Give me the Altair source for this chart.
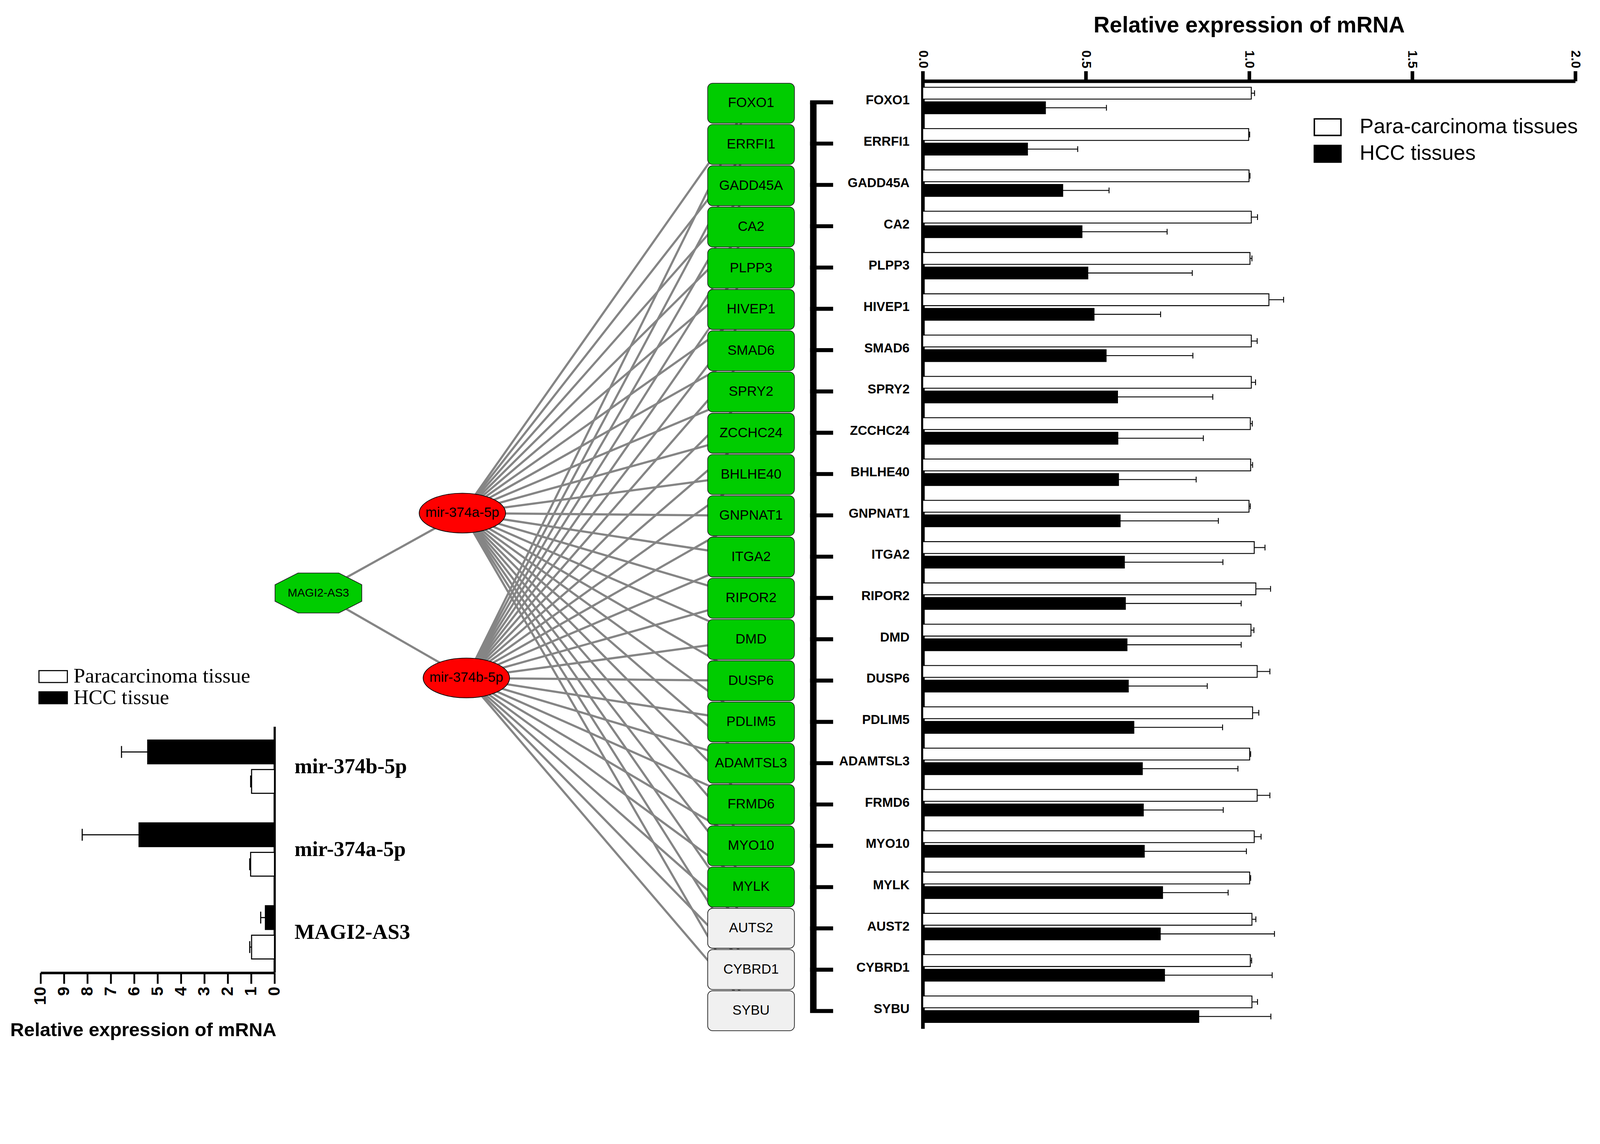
import altair as alt
import pandas as pd

# ---------------- data ----------------
genes = ["FOXO1", "ERRFI1", "GADD45A", "CA2", "PLPP3", "HIVEP1", "SMAD6", "SPRY2",
         "ZCCHC24", "BHLHE40", "GNPNAT1", "ITGA2", "RIPOR2", "DMD", "DUSP6", "PDLIM5",
         "ADAMTSL3", "FRMD6", "MYO10", "MYLK", "AUST2", "CYBRD1", "SYBU"]
para_mean = [1.007, 0.999, 1.000, 1.007, 1.003, 1.061, 1.007, 1.007, 1.004, 1.005, 1.000, 1.016,
             1.021, 1.006, 1.025, 1.011, 1.002, 1.025, 1.016, 1.002, 1.009, 1.004, 1.009]
para_err = [0.010, 0.003, 0.003, 0.019, 0.006, 0.045, 0.018, 0.013, 0.006, 0.006, 0.004, 0.033,
            0.045, 0.009, 0.039, 0.019, 0.003, 0.039, 0.021, 0.003, 0.012, 0.004, 0.017]
hcc_mean = [0.376, 0.321, 0.429, 0.488, 0.506, 0.525, 0.562, 0.597, 0.598, 0.600, 0.605, 0.618,
            0.621, 0.626, 0.630, 0.647, 0.673, 0.676, 0.679, 0.735, 0.728, 0.741, 0.846]
hcc_err = [0.187, 0.154, 0.142, 0.261, 0.320, 0.204, 0.266, 0.292, 0.262, 0.238, 0.301, 0.302,
           0.355, 0.350, 0.242, 0.272, 0.293, 0.245, 0.313, 0.201, 0.350, 0.330, 0.221]
para_r = "Para-carcinoma tissues"
hcc_r = "HCC tissues"
right_ticks = [0, 0.5, 1.0, 1.5, 2.0]

network_targets = ["FOXO1", "ERRFI1", "GADD45A", "CA2", "PLPP3", "HIVEP1", "SMAD6", "SPRY2",
                   "ZCCHC24", "BHLHE40", "GNPNAT1", "ITGA2", "RIPOR2", "DMD", "DUSP6", "PDLIM5",
                   "ADAMTSL3", "FRMD6", "MYO10", "MYLK", "AUTS2", "CYBRD1", "SYBU"]
unvalidated = ["AUTS2", "CYBRD1", "SYBU"]
lncrna = "MAGI2-AS3"
mirnas = ["mir-374a-5p", "mir-374b-5p"]

small_cats = ["mir-374b-5p", "mir-374a-5p", "MAGI2-AS3"]
small_para_mean = [0.98, 1.02, 0.98]
small_para_err = [0.04, 0.04, 0.08]
small_hcc_mean = [5.42, 5.79, 0.39]
small_hcc_err = [1.12, 2.43, 0.20]
para_l = "Paracarcinoma tissue"
hcc_l = "HCC tissue"
left_ticks = list(range(0, 11))

# ---------------- layout ----------------
W, H = 4428, 2912
NET_TX, NET_Y0, NET_STEP = 2078, 276.5, 114.59
BOX_W, BOX_H = 241, 111
MIR_POS = {"mir-374a-5p": (1276, 1415), "mir-374b-5p": (1287, 1873)}
LNC_POS = (876, 1637)

SANS = "Liberation Sans"
SERIF = "Liberation Serif"

# ---------------- network ----------------
tgt = pd.DataFrame({"name": network_targets})
tgt["i"] = range(len(tgt))
tgt["cx"] = NET_TX
tgt["cy"] = NET_Y0 + tgt["i"] * NET_STEP
tgt["x0"] = tgt["cx"] - BOX_W / 2
tgt["x1"] = tgt["cx"] + BOX_W / 2
tgt["y0"] = tgt["cy"] - BOX_H / 2
tgt["y1"] = tgt["cy"] + BOX_H / 2
tgt["grey"] = tgt["name"].isin(unvalidated)

edge_rows = []
for m in mirnas:
    edge_rows.append(dict(x=LNC_POS[0], y=LNC_POS[1], x2=MIR_POS[m][0], y2=MIR_POS[m][1]))
for m in mirnas:
    for _, r in tgt.iterrows():
        edge_rows.append(dict(x=MIR_POS[m][0], y=MIR_POS[m][1], x2=r["cx"], y2=r["cy"]))
edges = pd.DataFrame(edge_rows)
mir_df = pd.DataFrame({"name": mirnas, "x": [MIR_POS[m][0] for m in mirnas],
                       "y": [MIR_POS[m][1] for m in mirnas]})
lnc_df = pd.DataFrame({"name": [lncrna], "x": [LNC_POS[0]], "y": [LNC_POS[1]]})

nxs = alt.Scale(domain=[0, W], range=[0, W], nice=False, zero=False)
nys = alt.Scale(domain=[0, H], range=[0, H], nice=False, zero=False)


def NX(f):
    return alt.X(f, scale=nxs, axis=None)


def NY(f):
    return alt.Y(f, scale=nys, axis=None)


ELLIPSE = "M-1,0A1,0.46,0,1,1,1,0A1,0.46,0,1,1,-1,0Z"
OCTAGON = "M-0.47,-0.46L0.47,-0.46L1,-0.19L1,0.19L0.47,0.46L-0.47,0.46L-1,0.19L-1,-0.19Z"

edge_layer = alt.Chart(edges).mark_rule(color="#858585", strokeWidth=6).encode(
    x=NX("x:Q"), y=NY("y:Q"), x2="x2:Q", y2="y2:Q")
box_layer = alt.Chart(tgt).mark_rect(cornerRadius=14, stroke="#222222", strokeWidth=2).encode(
    x=NX("x0:Q"), x2="x1:Q", y=NY("y0:Q"), y2="y1:Q",
    fill=alt.condition(alt.datum.grey, alt.value("#F0F0F0"), alt.value("#00CC00")))
box_text = alt.Chart(tgt).mark_text(font=SANS, fontSize=38, color="black", baseline="middle").encode(
    x=NX("cx:Q"), y=NY("cy:Q"), text="name:N")
mir_layer = alt.Chart(mir_df).mark_point(shape=ELLIPSE, size=240 ** 2, filled=True, fill="#FF0000",
                                         stroke="black", strokeWidth=2, opacity=1).encode(
    x=NX("x:Q"), y=NY("y:Q"))
mir_text = alt.Chart(mir_df).mark_text(font=SANS, fontSize=38, color="black", baseline="middle").encode(
    x=NX("x:Q"), y=NY("y:Q"), text="name:N")
lnc_layer = alt.Chart(lnc_df).mark_point(shape=OCTAGON, size=241 ** 2, filled=True, fill="#00CC00",
                                         stroke="#222222", strokeWidth=2, opacity=1).encode(
    x=NX("x:Q"), y=NY("y:Q"))
lnc_text = alt.Chart(lnc_df).mark_text(font=SANS, fontSize=32, color="black", baseline="middle").encode(
    x=NX("x:Q"), y=NY("y:Q"), text="name:N")

network = alt.layer(edge_layer, box_layer, box_text, mir_layer, mir_text, lnc_layer, lnc_text)

# ---------------- right bar chart ----------------
rdf = pd.concat([
    pd.DataFrame({"gene": genes, "group": para_r, "mean": para_mean,
                  "upper": [m + e for m, e in zip(para_mean, para_err)]}),
    pd.DataFrame({"gene": genes, "group": hcc_r, "mean": hcc_mean,
                  "upper": [m + e for m, e in zip(hcc_mean, hcc_err)]}),
], ignore_index=True)

rxs = alt.Scale(domain=[0, 2], range=[2555, 4368], nice=False)
rys = alt.Scale(domain=genes, range=[215, 2847], paddingInner=0.36, paddingOuter=0.15)
ryo = alt.Scale(domain=[para_r, hcc_r], paddingInner=0.19, paddingOuter=0)

ax_top = alt.Axis(orient="top", offset=-215, values=right_ticks, format=".1f", labelAngle=90,
                  labelAlign="right", labelBaseline="middle", labelFont=SANS, labelFontSize=36,
                  labelFontWeight="bold", labelColor="black", labelPadding=8, labelFlush=False,
                  labelOverlap=False, labelLimit=0, tickSize=28, tickWidth=10, tickColor="black",
                  domainWidth=10, domainColor="black", grid=False,
                  title="Relative expression of mRNA", titleFont=SANS, titleFontSize=62,
                  titleFontWeight="bold", titleColor="black", titlePadding=37, titleLimit=0)
ax_ry = alt.Axis(orient="left", offset=-2555, ticks=False, tickSize=0, domainWidth=10,
                 domainColor="black", labelFont=SANS, labelFontSize=36, labelFontWeight="bold",
                 labelColor="black", labelPadding=37, labelAlign="right", labelBaseline="middle",
                 labelLimit=0, title=None, grid=False)

RECT_R = "M-1.48,-0.92H1.48V0.92H-1.48Z"
leg_r = alt.Legend(orient="none", legendX=3651, legendY=314, title=None, symbolType=RECT_R,
                   symbolSize=2500, symbolStrokeColor="black", symbolStrokeWidth=4,
                   labelFont=SANS, labelFontSize=58, labelColor="black", labelLimit=0,
                   labelOffset=60, rowPadding=12, padding=0, labelBaseline="middle")


def RX(f):
    return alt.X(f, scale=rxs, axis=ax_top)


def RY(f):
    return alt.Y(f, scale=rys, axis=ax_ry)


r_bars = alt.Chart(rdf).mark_bar(stroke="black", strokeWidth=2.5).encode(
    x=RX("mean:Q"), y=RY("gene:N"), yOffset=alt.YOffset("group:N", scale=ryo),
    fill=alt.Fill("group:N", scale=alt.Scale(domain=[para_r, hcc_r], range=["white", "black"]),
                  legend=leg_r))
r_err = alt.Chart(rdf).mark_rule(color="black", strokeWidth=2.5).encode(
    x=RX("mean:Q"), x2="upper:Q", y=RY("gene:N"), yOffset=alt.YOffset("group:N", scale=ryo))
r_cap = alt.Chart(rdf).mark_tick(color="black", thickness=2.5, size=16, opacity=1).encode(
    x=RX("upper:Q"), y=RY("gene:N"), yOffset=alt.YOffset("group:N", scale=ryo))

gdf = pd.DataFrame({"gene": genes})
br_ticks = alt.Chart(gdf).mark_rule(color="black", strokeWidth=11, yOffset=5).encode(
    y=RY("gene:N"), x=alt.value(2242), x2=alt.value(2306))
br_line = alt.Chart(pd.DataFrame({"top": [genes[0]], "bottom": [genes[-1]]})).mark_rule(
    color="black", strokeWidth=18, yOffset=5).encode(
    y=RY("top:N"), y2="bottom:N", x=alt.value(2251))

right = alt.layer(r_bars, r_err, r_cap, br_ticks, br_line)

# ---------------- left bar chart ----------------
ldf = pd.concat([
    pd.DataFrame({"cat": small_cats, "group": hcc_l, "mean": small_hcc_mean,
                  "upper": [m + e for m, e in zip(small_hcc_mean, small_hcc_err)]}),
    pd.DataFrame({"cat": small_cats, "group": para_l, "mean": small_para_mean,
                  "upper": [m + e for m, e in zip(small_para_mean, small_para_err)]}),
], ignore_index=True)

lxs = alt.Scale(domain=[0, 10], range=[754, 104], nice=False)
lys = alt.Scale(domain=small_cats, range=[2008, 2691], paddingInner=0.357, paddingOuter=0.163)
lyo = alt.Scale(domain=[hcc_l, para_l], paddingInner=0.195, paddingOuter=0)

ax_bot = alt.Axis(orient="bottom", offset=-220, values=left_ticks, labelAngle=270,
                  labelAlign="right", labelBaseline="middle", labelFont=SANS, labelFontSize=46,
                  labelFontWeight="bold", labelColor="black", labelPadding=8, labelFlush=False,
                  labelOverlap=False, labelLimit=0, tickSize=30, tickWidth=5, tickColor="black",
                  domainWidth=7, domainColor="black", grid=False,
                  title="Relative expression of mRNA", titleFont=SANS, titleFontSize=53,
                  titleFontWeight="bold", titleColor="black", titleX=389, titleY=176,
                  titleBaseline="alphabetic", titleAlign="center", titleLimit=0)
ax_ly = alt.Axis(orient="right", offset=-3674, ticks=False, tickSize=0, domainWidth=6,
                 domainColor="black", labelFont=SERIF, labelFontSize=59, labelFontWeight="bold",
                 labelColor="black", labelPadding=55, labelAlign="left", labelBaseline="middle",
                 labelLimit=0, title=None, grid=False)

RECT_L = "M-2.19,-0.92H2.19V0.92H-2.19Z"
leg_l = alt.Legend(orient="none", legendX=110, legendY=1840, title=None, symbolType=RECT_L,
                   symbolSize=1296, symbolStrokeColor="black", symbolStrokeWidth=3,
                   labelFont=SERIF, labelFontSize=58, labelColor="black", labelLimit=0,
                   labelOffset=27.5, rowPadding=1, padding=0, labelBaseline="middle")


def LX(f):
    return alt.X(f, scale=lxs, axis=ax_bot)


def LY(f):
    return alt.Y(f, scale=lys, axis=ax_ly)


l_bars = alt.Chart(ldf).mark_bar(stroke="black", strokeWidth=3).encode(
    x=LX("mean:Q"), y=LY("cat:N"), yOffset=alt.YOffset("group:N", scale=lyo),
    fill=alt.Fill("group:N", scale=alt.Scale(domain=[para_l, hcc_l], range=["white", "black"]),
                  legend=leg_l))
l_err = alt.Chart(ldf).mark_rule(color="black", strokeWidth=3).encode(
    x=LX("mean:Q"), x2="upper:Q", y=LY("cat:N"), yOffset=alt.YOffset("group:N", scale=lyo))
l_cap = alt.Chart(ldf).mark_tick(color="black", thickness=3, size=33, opacity=1).encode(
    x=LX("upper:Q"), y=LY("cat:N"), yOffset=alt.YOffset("group:N", scale=lyo))

left = alt.layer(l_bars, l_err, l_cap)

chart = alt.layer(network, right, left).resolve_scale(
    x="independent", y="independent", fill="independent", yOffset="independent"
).resolve_axis(x="independent", y="independent").resolve_legend(fill="independent").properties(
    width=W, height=H, autosize=alt.AutoSizeParams(type="pad"),
    padding={"top": -113, "bottom": -113, "left": 0, "right": 0}
).configure_view(stroke=None)

chart.save("out.html", embed_options={"renderer": "svg", "actions": False})
